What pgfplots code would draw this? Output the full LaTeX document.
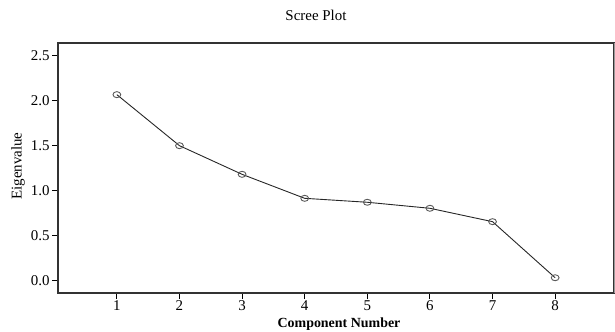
\documentclass[border=0pt]{standalone}
\usepackage{pgfplots}
\pgfplotsset{compat=1.18}
\usepackage{fontspec}
\setmainfont{Liberation Serif}
\begin{document}
\begin{tikzpicture}
\useasboundingbox (0,0) rectangle (615bp,332bp);
\begin{axis}[
  at={(58bp,39bp)}, anchor=south west,
  scale only axis, width=556bp, height=250bp,
  xmin=0.06, xmax=8.94, ymin=-0.141, ymax=2.642,
  xtick={1,...,8}, ytick={0,0.5,...,2.5},
  yticklabel style={/pgf/number format/fixed, /pgf/number format/fixed zerofill, /pgf/number format/precision=1, xshift=1bp},
  /pgf/number format/assume math mode=true,
  tick align=outside, tick pos=left,
  major tick length=6bp,
  tick style={black, line width=0.9pt},
  axis line style={line width=1.1pt, draw=black!80},
  ticklabel style={font=\fontsize{15}{16}\selectfont},
  xticklabel style={yshift=2bp},
  clip=false,
]
\addplot[draw=black!85, line width=0.9pt, mark=o, mark size=3bp,
  mark options={draw=black!65, line width=0.9pt, xscale=1.3}]
  coordinates {(1,2.067) (2,1.499) (3,1.180) (4,0.913) (5,0.869) (6,0.802) (7,0.653) (8,0.029)};
\draw[black!80, line width=1.1pt] (rel axis cs:0,1) -- (rel axis cs:1,1);
\draw[black!40, line width=0.8pt] (rel axis cs:1,0) -- (rel axis cs:1,1);
\end{axis}
\node[font=\fontsize{15}{16}\selectfont] at (316bp,317bp) {Scree Plot};
\node[font=\fontsize{15}{16}\selectfont, rotate=90] at (18bp,166bp) {Eigenvalue};
\node[font=\fontsize{14}{15}\selectfont\bfseries] at (339bp,8bp) {Component Number};
\end{tikzpicture}
\end{document}
